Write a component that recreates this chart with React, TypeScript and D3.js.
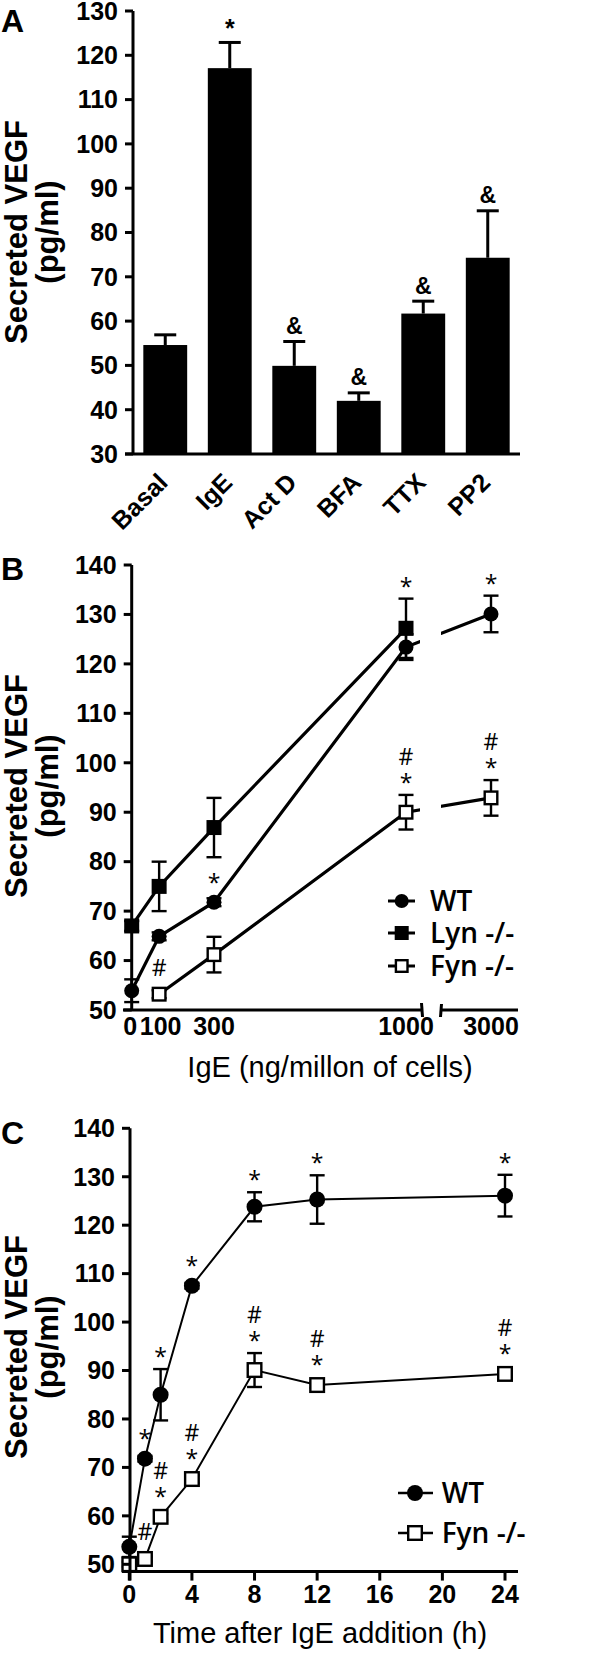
import React from "react";
import * as d3 from "d3";

// ---------- Panel A data ----------
const A_CATEGORIES = ["Basal", "IgE", "Act D", "BFA", "TTX", "PP2"];
const A_MEANS = [54.6, 117.1, 49.9, 42.0, 61.7, 74.3];
const A_ERRORS = [2.3, 5.8, 5.5, 1.8, 2.8, 10.6];
const A_MARKS = ["", "*", "&", "&", "&", "&"];
const A_TICKS = [30, 40, 50, 60, 70, 80, 90, 100, 110, 120, 130];

// ---------- Panel B data ----------
const B_DOSES = [0, 100, 300, 1000, 3000];
const B_DOSE_LABELS = ["0", "100", "300", "1000", "3000"];
const B_WT = [53.9, 64.9, 71.8, 123.4, 130.1];
const B_WT_ERR = [2.3, 0.8, 0.8, 2.6, 3.7];
const B_WT_MARKS = ["", "", "*", "*", "*"];
const B_LYN = [67.0, 75.0, 86.9, 127.2, null];
const B_LYN_ERR = [1.0, 5.0, 6.0, 6.0, null];
const B_LYN_MARKS = ["", "", "", "", ""];
const B_FYN = [null, 53.2, 61.2, 90.0, 92.9];
const B_FYN_ERR = [null, 0.8, 3.6, 3.5, 3.6];
const B_FYN_MARKS = ["", "#", "", "*#", "*#"];
const B_TICKS = [50, 60, 70, 80, 90, 100, 110, 120, 130, 140];

// ---------- Panel C data ----------
const C_TIMES = [0, 1, 2, 4, 8, 12, 24];
const C_WT = [53.6, 71.8, 85.0, 107.5, 123.8, 125.3, 126.1];
const C_WT_ERR = [2.1, 0.6, 5.3, 0.6, 3.0, 5.0, 4.3];
const C_WT_MARKS = ["", "*", "*", "*", "*", "*", "*"];
const C_FYN = [50.0, 51.1, 59.8, 67.6, 90.1, 87.0, 89.3];
const C_FYN_ERR = [0.5, 0.5, 0.6, 0.8, 3.5, 0.6, 0.6];
const C_FYN_MARKS = ["", "#", "*#", "*#", "*#", "*#", "*#"];
const C_TICKS_Y = [50, 60, 70, 80, 90, 100, 110, 120, 130, 140];
const C_TICKS_X = [0, 4, 8, 12, 16, 20, 24];

const BOLD = "'Liberation Sans', Arial, sans-serif";
const NARROW = "'Liberation Sans Narrow', 'Arial Narrow', 'Liberation Sans', sans-serif";
const LEG = "'Open Sans', 'Liberation Sans', sans-serif";

type Marker = "circle" | "square" | "open";
type Series = {
  name: string;
  values: (number | null)[];
  errors: (number | null)[];
  marker: Marker;
  marks: string[];
};

function MarkerShape({ type, x, y, size }: { type: Marker; x: number; y: number; size: number }) {
  if (type === "circle") return <circle cx={x} cy={y} r={size / 2} fill="#000" />;
  if (type === "square")
    return <rect x={x - size / 2} y={y - size / 2} width={size} height={size} fill="#000" />;
  return (
    <rect
      x={x - size / 2 + 1.2}
      y={y - size / 2 + 1.2}
      width={size - 2.4}
      height={size - 2.4}
      fill="#fff"
      stroke="#000"
      strokeWidth={2.4}
    />
  );
}

function symOffset(ch: string) {
  return ch === "*" ? 12 : 8;
}

function LinePanel({
  series,
  xs,
  xScale,
  yScale,
  lineWidth,
  markerSize,
  clipId,
}: {
  series: Series[];
  xs: number[];
  xScale: (v: number) => number;
  yScale: d3.ScaleLinear<number, number>;
  lineWidth: number;
  markerSize: number;
  clipId?: string;
}) {
  const r = markerSize / 2;
  const line = d3
    .line<[number, number | null]>()
    .defined((d) => d[1] != null)
    .x((d) => xScale(d[0]))
    .y((d) => yScale(d[1] as number));

  const annots: { x: number; y: number; ch: string; key: string }[] = [];
  series.forEach((s, si) => {
    s.marks.forEach((m, i) => {
      if (!m || s.values[i] == null) return;
      const yv = yScale(s.values[i] as number);
      let anchor = Infinity;
      series.forEach((o) => {
        const v = o.values[i];
        if (v == null) return;
        const oy = yScale(v);
        if (Math.abs(oy - yv) > 30) return;
        const e = o.errors[i] ?? 0;
        anchor = Math.min(anchor, yScale(v + e), oy - r);
      });
      const chars = m.split("");
      chars.forEach((ch, k) => {
        let center: number;
        if (chars.length === 1) center = anchor - (ch === "*" ? 16 : 19);
        else center = k === 0 ? anchor - 16 : anchor - 38;
        annots.push({ x: xScale(xs[i]), y: center + symOffset(ch), ch, key: `${si}-${i}-${k}` });
      });
    });
  });

  return (
    <g>
      <g clipPath={clipId ? `url(#${clipId})` : undefined}>
        {series.map((s) => (
          <path
            key={s.name}
            d={line(xs.map((x, i) => [x, s.values[i]] as [number, number | null])) || ""}
            fill="none"
            stroke="#000"
            strokeWidth={lineWidth}
          />
        ))}
      </g>
      {series.map((s) =>
        s.values.map((v, i) => {
          const e = s.errors[i];
          if (v == null || e == null) return null;
          const x = xScale(xs[i]);
          const y1 = yScale(v + e);
          const y2 = yScale(v - e);
          return (
            <g key={`${s.name}-e${i}`} stroke="#000" strokeWidth={2.4}>
              <line x1={x} x2={x} y1={y1} y2={y2} />
              <line x1={x - 7.5} x2={x + 7.5} y1={y1} y2={y1} />
              <line x1={x - 7.5} x2={x + 7.5} y1={y2} y2={y2} />
            </g>
          );
        })
      )}
      {series.map((s) =>
        s.values.map((v, i) =>
          v == null ? null : (
            <MarkerShape key={`${s.name}-m${i}`} type={s.marker} x={xScale(xs[i])} y={yScale(v)} size={markerSize} />
          )
        )
      )}
      {annots.map((a) => (
        <text key={a.key} x={a.x} y={a.y} textAnchor="middle" fontFamily={LEG} fontSize={23} fill="#000">
          {a.ch}
        </text>
      ))}
    </g>
  );
}

function YTitle({ cy }: { cy: number }) {
  return (
    <g fontFamily={BOLD} fontWeight="bold" fontSize={31} fill="#000" textAnchor="middle">
      <text transform={`translate(27,${cy}) rotate(-90)`}>Secreted VEGF</text>
      <text transform={`translate(58,${cy}) rotate(-90)`}>(pg/ml)</text>
    </g>
  );
}

function YAxis({
  scale,
  ticks,
  x,
  top,
  bottom,
}: {
  scale: d3.ScaleLinear<number, number>;
  ticks: number[];
  x: number;
  top: number;
  bottom: number;
}) {
  return (
    <g>
      <line x1={x} x2={x} y1={top} y2={bottom} stroke="#000" strokeWidth={3} />
      {ticks.map((t) => (
        <g key={t}>
          <line x1={x - 8} x2={x} y1={scale(t)} y2={scale(t)} stroke="#000" strokeWidth={3} />
          <text
            x={x - 15}
            y={scale(t) + 8.8}
            textAnchor="end"
            fontFamily={NARROW}
            fontWeight="bold"
            fontSize={25}
            fill="#000"
          >
            {t}
          </text>
        </g>
      ))}
    </g>
  );
}

export default function App() {
  // ----- Panel A -----
  const yA = d3.scaleLinear().domain([30, 130]).range([454, 11]);
  const xA = d3.scaleBand<string>().domain(A_CATEGORIES).range([133, 520]).paddingInner(0.32).paddingOuter(0.16);
  const bw = xA.bandwidth();

  // ----- Panel B -----
  const yB = d3.scaleLinear().domain([50, 140]).range([1010, 565]);
  const xB = d3.scaleLinear().domain([0, 1000, 3000]).range([131.7, 406, 491]);
  const bSeries: Series[] = [
    { name: "WT", values: B_WT, errors: B_WT_ERR, marker: "circle", marks: B_WT_MARKS },
    { name: "Lyn -/-", values: B_LYN, errors: B_LYN_ERR, marker: "square", marks: B_LYN_MARKS },
    { name: "Fyn -/-", values: B_FYN, errors: B_FYN_ERR, marker: "open", marks: B_FYN_MARKS },
  ];
  const bLegendY = [901, 933, 966];

  // ----- Panel C -----
  const yC = d3.scaleLinear().domain([50, 140]).range([1564.3, 1128.3]);
  const xC = d3.scaleLinear().domain([0, 24]).range([129.3, 505]);
  const cSeries: Series[] = [
    { name: "WT", values: C_WT, errors: C_WT_ERR, marker: "circle", marks: C_WT_MARKS },
    { name: "Fyn -/-", values: C_FYN, errors: C_FYN_ERR, marker: "open", marks: C_FYN_MARKS },
  ];
  const cLegendY = [1493, 1533];
  const cAxisY = yC(48.5);

  return (
    <svg
      width={600}
      height={1655}
      viewBox="0 0 600 1655"
      style={{ position: "absolute", left: 0, top: 0, background: "#fff" }}
    >
      <rect x={0} y={0} width={600} height={1655} fill="#fff" />
      <defs>
        <clipPath id="clipB">
          <rect x={0} y={500} width={420} height={560} />
          <rect x={441} y={500} width={160} height={560} />
        </clipPath>
      </defs>

      {/* ================= Panel A ================= */}
      <text x={1} y={32} fontFamily={BOLD} fontWeight="bold" fontSize={32} fill="#000">A</text>
      <YTitle cy={232} />
      {A_CATEGORIES.map((c, i) => {
        const x0 = xA(c) as number;
        const cx = x0 + bw / 2;
        const top = yA(A_MEANS[i]);
        const et = yA(A_MEANS[i] + A_ERRORS[i]);
        const mark = A_MARKS[i];
        return (
          <g key={c}>
            <rect x={x0} y={top} width={bw} height={yA(30) - top} fill="#000" />
            <line x1={cx} x2={cx} y1={top} y2={et} stroke="#000" strokeWidth={3} />
            <line x1={cx - 11} x2={cx + 11} y1={et} y2={et} stroke="#000" strokeWidth={3} />
            {mark && (
              <text
                x={cx}
                y={mark === "*" ? et - 19 + 13.7 : et - 16 + 8.6}
                textAnchor="middle"
                fontFamily={BOLD}
                fontWeight="bold"
                fontSize={mark === "*" ? 25 : 23}
                fill="#000"
              >
                {mark}
              </text>
            )}
            <text
              transform={`translate(${cx + 4},484) rotate(-45)`}
              textAnchor="end"
              fontFamily={NARROW}
              fontWeight="bold"
              fontSize={25}
              fill="#000"
            >
              {c}
            </text>
          </g>
        );
      })}
      <YAxis scale={yA} ticks={A_TICKS} x={133} top={yA(130)} bottom={yA(30)} />
      <line x1={125} x2={520} y1={yA(30)} y2={yA(30)} stroke="#000" strokeWidth={3} />

      {/* ================= Panel B ================= */}
      <text x={1} y={580} fontFamily={BOLD} fontWeight="bold" fontSize={32} fill="#000">B</text>
      <YTitle cy={786} />
      <LinePanel
        series={bSeries}
        xs={B_DOSES}
        xScale={xB}
        yScale={yB}
        lineWidth={3.2}
        markerSize={15}
        clipId="clipB"
      />
      <YAxis scale={yB} ticks={B_TICKS} x={131.7} top={yB(140)} bottom={yB(50)} />
      <g stroke="#000" strokeWidth={3}>
        <line x1={123} x2={422.7} y1={yB(50)} y2={yB(50)} />
        <line x1={421.5} x2={422.5} y1={yB(50) - 7} y2={yB(50) + 7} />
        <line x1={440.7} x2={518} y1={yB(50)} y2={yB(50)} />
        <line x1={441.5} x2={440.5} y1={yB(50) - 6} y2={yB(50) + 7} />
      </g>
      {B_DOSES.map((d, i) => (
        <text
          key={d}
          x={xB(d) + (d === 0 ? -1.5 : d === 100 ? 1.5 : 0)}
          y={1035}
          textAnchor="middle"
          fontFamily={NARROW}
          fontWeight="bold"
          fontSize={25}
          fill="#000"
        >
          {B_DOSE_LABELS[i]}
        </text>
      ))}
      <text x={330} y={1077} textAnchor="middle" fontFamily={BOLD} fontSize={29} fill="#000">
        IgE (ng/millon of cells)
      </text>
      {bSeries.map((s, i) => (
        <g key={s.name}>
          <line x1={388} x2={415} y1={bLegendY[i]} y2={bLegendY[i]} stroke="#000" strokeWidth={3} />
          <MarkerShape type={s.marker} x={401.7} y={bLegendY[i]} size={14} />
          <text x={430} y={bLegendY[i] + 10} fontFamily={LEG} fontWeight={600} fontSize={28} fill="#000">
            {s.name}
          </text>
        </g>
      ))}

      {/* ================= Panel C ================= */}
      <text x={1} y={1144} fontFamily={BOLD} fontWeight="bold" fontSize={32} fill="#000">C</text>
      <YTitle cy={1347} />
      <LinePanel series={cSeries} xs={C_TIMES} xScale={xC} yScale={yC} lineWidth={2} markerSize={16} />
      <YAxis scale={yC} ticks={C_TICKS_Y} x={130} top={yC(140)} bottom={cAxisY + 9} />
      <line x1={122} x2={518} y1={cAxisY} y2={cAxisY} stroke="#000" strokeWidth={3} />
      {C_TICKS_X.map((t) => (
        <g key={t}>
          <line x1={xC(t)} x2={xC(t)} y1={cAxisY} y2={cAxisY + 9} stroke="#000" strokeWidth={3} />
          <text
            x={xC(t)}
            y={1603}
            textAnchor="middle"
            fontFamily={NARROW}
            fontWeight="bold"
            fontSize={25}
            fill="#000"
          >
            {t}
          </text>
        </g>
      ))}
      <text x={320} y={1643} textAnchor="middle" fontFamily={BOLD} fontSize={29} fill="#000">
        Time after IgE addition (h)
      </text>
      {cSeries.map((s, i) => (
        <g key={s.name}>
          <line x1={398} x2={433} y1={cLegendY[i]} y2={cLegendY[i]} stroke="#000" strokeWidth={2.5} />
          <MarkerShape type={s.marker} x={415} y={cLegendY[i]} size={16} />
          <text x={441.7} y={cLegendY[i] + 10} fontFamily={LEG} fontWeight={600} fontSize={28} fill="#000">
            {s.name}
          </text>
        </g>
      ))}
    </svg>
  );
}
